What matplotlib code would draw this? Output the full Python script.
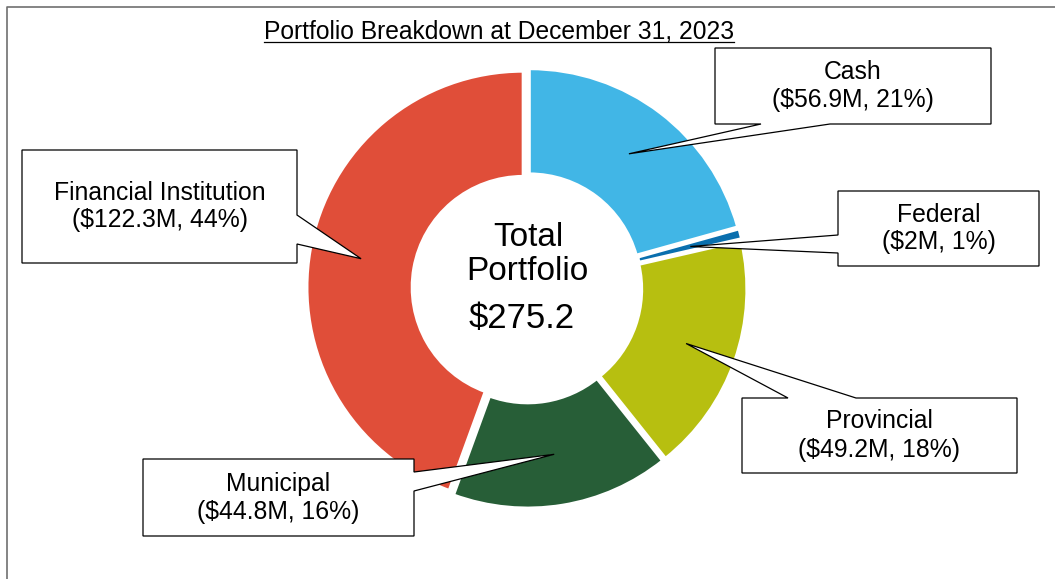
import numpy as np
import matplotlib.pyplot as plt
from matplotlib.patches import Polygon

plt.rcParams['font.family'] = ['Liberation Sans', 'DejaVu Sans']

# data
categories = ['Cash', 'Federal', 'Provincial', 'Municipal', 'Financial Institution']
values = [56.9, 2, 49.2, 44.8, 122.3]
colors = ['#41B6E6', '#0A6FAE', '#B7BF10', '#275E37', '#E04E39']
title = 'Portfolio Breakdown at December 31, 2023'
center_lines = ['Total', 'Portfolio', '$275.2']

W, H = 1055, 579


def py(y):
    # pixel row (from top) -> data y
    return H - y


fig = plt.figure(figsize=(W / 100, H / 100), dpi=100)
ax = fig.add_axes([0, 0, 1, 1])

wedges, _ = ax.pie(values, colors=colors, startangle=90, counterclock=False,
                   radius=216, center=(527, py(288)), explode=[4] * len(values),
                   wedgeprops=dict(width=105, edgecolor='white', linewidth=2))
ax.set_xlim(0, W)
ax.set_ylim(0, H)
ax.set_aspect('equal')
ax.axis('off')

# outer frame (top and left only)
ax.plot([7, 7, W], [0, py(7), py(7)], color='#707070', lw=1.2, clip_on=False)

# title with underline
t = ax.text(499, py(38), title, ha='center', va='baseline', fontsize=17.7)
fig.canvas.draw()
bb = t.get_window_extent()
ax.plot([bb.x0, bb.x1], [py(42), py(42)], color='black', lw=0.9)

# centre text
ax.text(528, py(238), center_lines[0], ha='center', va='center', fontsize=24)
ax.text(527, py(272), center_lines[1], ha='center', va='center', fontsize=24)
ax.text(522, py(318), center_lines[2], ha='center', va='center', fontsize=25)

# callout boxes: (x0, y0, x1, y1) in pixels, side of pointer, pointer base span
layout = [
    ((715, 48, 991, 124), 'bottom', (761, 830)),
    ((838, 191, 1039, 266), 'left', (235, 253)),
    ((742, 398, 1017, 473), 'top', (788, 856)),
    ((143, 459, 414, 536), 'right', (472, 491)),
    ((22, 150, 297, 263), 'right', (215, 244)),
]

total = sum(values)
for w, name, val, (box, side, (a, b)) in zip(wedges, categories, values, layout):
    x0, y0, x1, y1 = box
    # pointer tip sits mid-ring on the slice's middle angle
    th = np.deg2rad((w.theta1 + w.theta2) / 2)
    rm = w.r - w.width / 2 + 1
    tip = (w.center[0] + rm * np.cos(th), w.center[1] + rm * np.sin(th))
    if side == 'top':
        pts = [(x0, y0), (a, y0), None, (b, y0), (x1, y0), (x1, y1), (x0, y1)]
    elif side == 'right':
        pts = [(x0, y0), (x1, y0), (x1, a), None, (x1, b), (x1, y1), (x0, y1)]
    elif side == 'bottom':
        pts = [(x0, y0), (x1, y0), (x1, y1), (b, y1), None, (a, y1), (x0, y1)]
    else:
        pts = [(x0, y0), (x1, y0), (x1, y1), (x0, y1), (x0, b), None, (x0, a)]
    verts = [tip if p is None else (p[0], py(p[1])) for p in pts]
    ax.add_patch(Polygon(verts, closed=True, facecolor='white', edgecolor='black',
                         lw=0.9, zorder=5))
    cx, cy = (x0 + x1) / 2, (y0 + y1) / 2
    pct = round(val / total * 100)
    ax.text(cx, py(cy - 14), name, ha='center', va='center', fontsize=17.8, zorder=6)
    ax.text(cx, py(cy + 14), f'(${val:g}M, {pct}%)', ha='center', va='center',
            fontsize=17.8, zorder=6)

fig.savefig('out.png', dpi=100)
